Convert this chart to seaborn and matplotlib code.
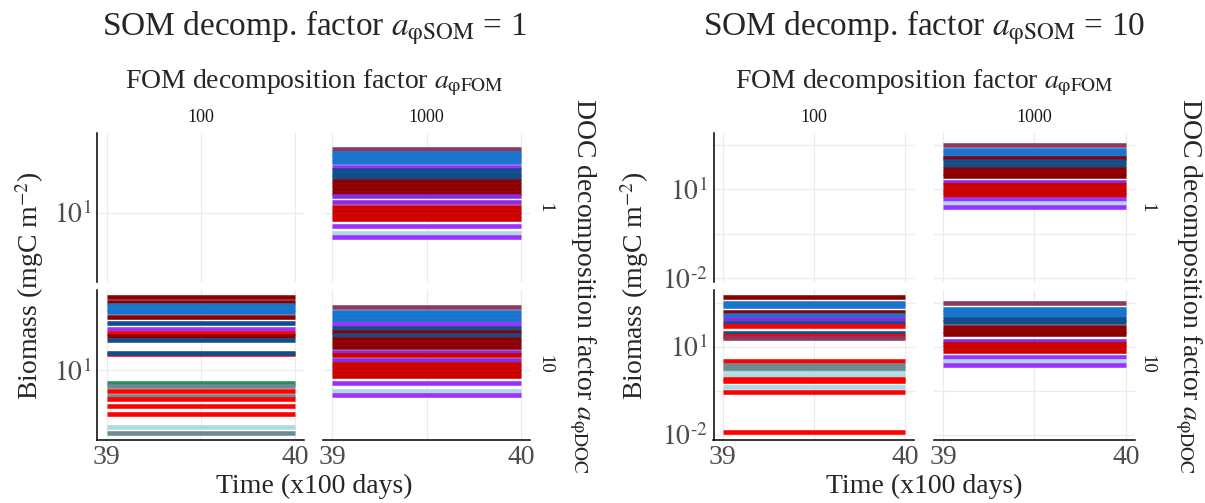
import numpy as np
import pandas as pd
import matplotlib
matplotlib.use("Agg")
import matplotlib.pyplot as plt
import seaborn as sns
from matplotlib.ticker import FixedLocator, FuncFormatter

# time window shown (x100 days)
time = [39, 40]

# biomass (mgC m^-2) of each simulated line, one list per facet, with its colour group
som1_fom1000_doc1 = [1390, 1000, 792, 627, 497, 358, 277, 203, 155, 118, 86, 63, 48,
                     36.6, 23.5, 15.6, 11.4, 8.4, 6.1, 3.56, 2.06, 1.48]
som1_fom1000_doc1_grp = ["maroon", "blue", "blue", "blue", "blue", "purple", "navy", "navy",
                         "navy", "darkred", "darkred", "darkred", "darkred", "violet", "violet",
                         "red3", "red3", "red3", "red3", "purple", "lightblue", "purple"]

som1_fom100_doc10 = [2995, 2030, 1510, 1150, 877, 618, 396, 243, 178, 141, 107, 34.7, 38.4,
                     3.84, 2.88, 2.0, 1.32, 1.05, 0.62, 0.344, 0.121, 0.076]
som1_fom100_doc10_grp = ["darkred", "darkred", "blue", "blue", "blue", "darkred", "navy", "purple",
                         "red", "darkred", "navy", "red", "navy", "green", "slate", "red",
                         "slate", "red", "red", "red", "lightblue", "slate"]

som1_fom1000_doc10 = [1377, 877, 667, 508, 358, 262, 200, 152, 111, 82, 60, 41.5, 32, 21.8,
                      16, 11.7, 8.6, 6.3, 3.64, 1.95, 1.43]
som1_fom1000_doc10_grp = ["maroon", "blue", "blue", "blue", "purple", "navy", "darkred", "navy",
                          "darkred", "darkred", "darkred", "violet", "red3", "violet", "red3",
                          "red3", "red3", "red3", "purple", "lightblue", "purple"]

som10_fom1000_doc1 = [304, 219, 167, 127, 111, 90, 68.5, 48.3, 36.8, 28, 17.6, 13.96, 10.6,
                      8.1, 6.4, 4.82, 3.53, 2.47]
som10_fom1000_doc1_grp = ["maroon", "blue", "blue", "blue", "darkred", "navy", "navy", "darkred",
                          "darkred", "darkred", "violet", "red3", "red3", "red3", "red3",
                          "purple", "lightblue", "purple"]

som10_fom100_doc10 = [477, 305, 241, 155, 119, 87, 64, 50.5, 29.9, 23.1, 19.3, 3.27, 1.55,
                      2.39, 1.89, 1.09, 0.767, 0.684, 0.405, 0.282, 0.012]
som10_fom100_doc10_grp = ["darkred", "blue", "blue", "darkred", "blue", "violet", "navy", "red",
                          "navy", "red", "maroon", "red", "aqua", "slate", "slate", "lightblue",
                          "red", "red", "lightblue", "red", "red"]

som10_fom1000_doc10 = [298, 199, 151, 115, 87, 70.7, 44.9, 34.1, 26, 16, 12.4, 9.4, 7.1,
                       4.57, 3.27, 2.39]
som10_fom1000_doc10_grp = ["maroon", "blue", "blue", "blue", "navy", "navy", "darkred", "darkred",
                           "darkred", "violet", "red3", "red3", "red3", "purple", "lightblue",
                           "purple"]

palette = {
    "maroon": "#8B3A62", "blue": "#1874CD", "navy": "#104E8B", "purple": "#9B30FF",
    "violet": "#8A2BE2", "darkred": "#8B0000", "red3": "#CD0000", "red": "#FF0000",
    "lightblue": "#ADD8E6", "slate": "#6C8A94", "green": "#2E8B57", "aqua": "#9ED9D2",
}

facets = {
    (1, 1000, 1): (som1_fom1000_doc1, som1_fom1000_doc1_grp),
    (1, 100, 10): (som1_fom100_doc10, som1_fom100_doc10_grp),
    (1, 1000, 10): (som1_fom1000_doc10, som1_fom1000_doc10_grp),
    (10, 1000, 1): (som10_fom1000_doc1, som10_fom1000_doc1_grp),
    (10, 100, 10): (som10_fom100_doc10, som10_fom100_doc10_grp),
    (10, 1000, 10): (som10_fom1000_doc10, som10_fom1000_doc10_grp),
}

rows = []
for (som, fom, doc), (vals, grps) in facets.items():
    for i, (v, g) in enumerate(zip(vals, grps)):
        for t in time:
            rows.append(dict(som=som, fom=fom, doc=doc, line=f"{som}-{fom}-{doc}-{i}",
                             grp=g, time=t, biomass=v))
df = pd.DataFrame(rows)

sns.set_style("white")
plt.rcParams["font.family"] = ["Liberation Serif", "DejaVu Serif"]
plt.rcParams["mathtext.fontset"] = "stix"

W, H = 1205, 503
fig = plt.figure(figsize=(W / 100, H / 100), dpi=100)


def px_axes(x0, x1, y0, y1):
    return fig.add_axes([x0 / W, 1 - y1 / H, (x1 - x0) / W, (y1 - y0) / H])


def ftext(x, y, s, **kw):
    fig.text(x / W, 1 - y / H, s, ha="center", va="center", **kw)


def log_label(v, pos):
    e = int(round(np.log10(v)))
    return rf"$10^{{\text{{{e}}}}}$"


row_px = [(132.7, 281.7), (290, 439.5)]
panels = [
    dict(som=1, cols=[(97.3, 304.4), (322.9, 530.4)],
         ylims=[(10 ** -1.33, 10 ** 3.70), (10 ** -1.33, 10 ** 3.70)],
         major=[10], minor=[], strip_x=545, doc_x=582, ylab_x=30, cx=314),
    dict(som=10, cols=[(713.5, 914.5), (934, 1135)],
         ylims=[(10 ** -2.11, 10 ** 2.91), (10 ** -2.17, 10 ** 2.93)],
         major=[0.01, 10], minor=[10 ** -0.5, 10 ** 2.5], strip_x=1147, doc_x=1188,
         ylab_x=635, cx=924),
]
fom_levels = [100, 1000]
doc_levels = [1, 10]
grid_c = "#EBEBEB"
tick_c = "#4D4D4D"

for p in panels:
    for r, doc in enumerate(doc_levels):
        for c, fom in enumerate(fom_levels):
            ax = px_axes(p["cols"][c][0], p["cols"][c][1], row_px[r][0], row_px[r][1])
            sub = df[(df.som == p["som"]) & (df.fom == fom) & (df.doc == doc)]
            if len(sub):
                pal = dict(zip(sub["line"], sub["grp"].map(palette)))
                sns.lineplot(data=sub, x="time", y="biomass", hue="line", palette=pal,
                             legend=False, ax=ax, linewidth=3.3, estimator=None, sort=False)
                for ln in ax.lines:
                    ln.set_solid_capstyle("butt")
            ax.set_yscale("log")
            ax.set_ylim(*p["ylims"][r])
            ax.set_xlim(38.95, 40.05)
            ax.xaxis.set_major_locator(FixedLocator([39, 40]))
            ax.xaxis.set_minor_locator(FixedLocator([39.5]))
            ax.yaxis.set_major_locator(FixedLocator(p["major"]))
            ax.yaxis.set_minor_locator(FixedLocator(p["minor"]))
            ax.yaxis.set_major_formatter(FuncFormatter(log_label))
            ax.set_axisbelow(True)
            ax.grid(True, which="both", color=grid_c, linewidth=0.9)
            ax.set_xlabel("")
            ax.set_ylabel("")
            for s in ax.spines.values():
                s.set_visible(False)
            ax.tick_params(which="minor", length=0)
            ax.tick_params(axis="both", which="major", labelsize=20, labelcolor=tick_c,
                           color="#333333", length=3, width=0.8, pad=1)
            if c == 0:
                ax.spines["left"].set_visible(True)
                ax.spines["left"].set_color("black")
                ax.spines["left"].set_linewidth(1.1)
            else:
                ax.tick_params(axis="y", left=False, labelleft=False)
            if r == 1:
                ax.spines["bottom"].set_visible(True)
                ax.spines["bottom"].set_color("black")
                ax.spines["bottom"].set_linewidth(1.1)
            else:
                ax.tick_params(axis="x", bottom=False, labelbottom=False)
            if r == 0:
                ftext(sum(p["cols"][c]) / 2, 117, str(fom), fontsize=13, color="#1A1A1A")
        ftext(p["strip_x"], sum(row_px[r]) / 2, str(doc), fontsize=13.5, color="#1A1A1A",
              rotation=-90)

    ftext(p["cx"], 28, rf"SOM decomp. factor $a_{{\mathrm{{φSOM}}}}$ = {p['som']}",
          fontsize=24)
    ftext(p["cx"], 83, r"FOM decomposition factor $a_{\mathrm{φFOM}}$", fontsize=20)
    ftext(p["doc_x"], 286, r"DOC decomposition factor $a_{\mathrm{φDOC}}$",
          fontsize=20, rotation=-90)
    ftext(p["ylab_x"], 286, r"Biomass (mgC m$^{-2}$)", fontsize=20, rotation=90)
    ftext(p["cx"], 486, "Time (x100 days)", fontsize=20)

fig.savefig("out.png", dpi=100)
